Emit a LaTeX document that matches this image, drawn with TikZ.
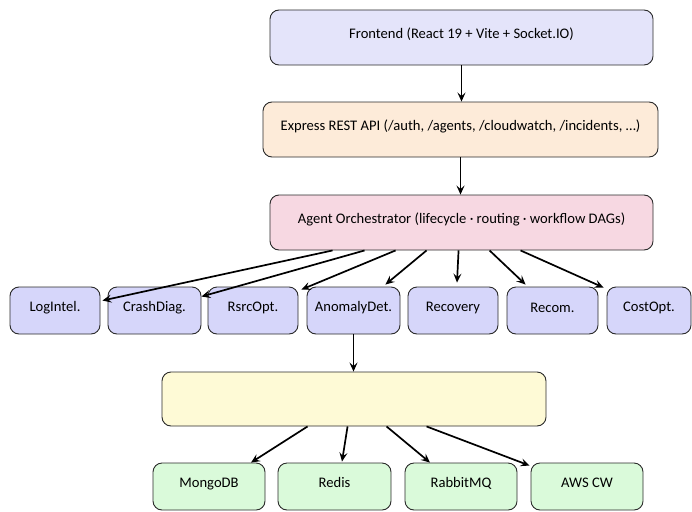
\documentclass[tikz,border=0pt]{standalone}
\usepackage{fontspec}
\setmainfont{Carlito}
\usetikzlibrary{arrows.meta,calc}
\definecolor{bordc}{HTML}{2A2A2A}
\definecolor{frontc}{HTML}{E4E4FA}
\definecolor{expc}{HTML}{FDEBD9}
\definecolor{orchc}{HTML}{F7D8E2}
\definecolor{agentc}{HTML}{D6D6FA}
\definecolor{yelc}{HTML}{FEFAD6}
\definecolor{dbc}{HTML}{DAFADA}
\tikzset{
  box/.style={draw=bordc, line width=0.9pt, rounded corners=9pt, inner sep=0pt,
    font=\fontsize{14.6}{16}\selectfont, text height=9pt, text depth=8pt, align=center},
  topbox/.style={box, minimum height=55pt},
  agent/.style={box, fill=agentc, minimum height=47pt},
  dbbox/.style={box, fill=dbc, minimum height=47pt},
  arr/.style={draw=black, line width=1.7pt, -{Stealth[length=9pt,width=8pt,inset=3.5pt]}},
}
\begin{document}
\begin{tikzpicture}[x=1pt,y=-1pt]
\useasboundingbox (0,0) rectangle (692,511);
% top chain
\node[topbox, fill=frontc, minimum width=383pt] (front) at (461.5,37.5) {Frontend (React 19 + Vite + Socket.IO)};
\node[topbox, fill=expc, minimum width=395pt] (express) at (460.5,129.5) {Express REST API (/auth, /agents, /cloudwatch, /incidents, \dots)};
\node[topbox, fill=orchc, minimum width=383pt] (orch) at (461.5,222.5) {Agent Orchestrator (lifecycle · routing · workflow DAGs)};
% agents
\node[agent, minimum width=90pt] (li) at (55,310.5) {LogIntel.};
\node[agent, minimum width=93pt] (cd) at (154.5,310.5) {CrashDiag.};
\node[agent, minimum width=90pt] (ro) at (253,310.5) {RsrcOpt.};
\node[agent, minimum width=93pt] (ad) at (353.5,310.5) {AnomalyDet.};
\node[agent, minimum width=90pt] (rv) at (453,310.5) {Recovery};
\node[agent, minimum width=91pt, text depth=5pt] (rc) at (552.5,310.5) {Recom.};
\node[agent, minimum width=84pt] (co) at (649,310.5) {CostOpt.};
% yellow layer
\node[box, fill=yelc, minimum width=384pt, minimum height=54pt] (yel) at (354,399) {};
% data stores
\node[dbbox, minimum width=112pt] (mongo) at (209,486.5) {MongoDB};
\node[dbbox, minimum width=113pt] (redis) at (334.5,486.5) {Redis};
\node[dbbox, minimum width=112pt] (rabbit) at (461,486.5) {RabbitMQ};
\node[dbbox, minimum width=112pt] (aws) at (587,486.5) {AWS CW};
% connectors
\draw[arr] (front.south) -- (front.south |- express.north);
\draw[arr] (express.south) -- (express.south |- orch.north);
\draw[arr] ($(orch.south west)+(63,0)$) -- ($(li.north east)+(2,14)$);
\draw[arr] ($(orch.south west)+(95,0)$) -- ($(cd.north east)+(0,10)$);
\draw[arr] ($(orch.south west)+(126,0)$) -- ($(ro.north east)+(3,3)$);
\draw[arr] ($(orch.south west)+(157,0)$) -- ($(ad.north east)+(-15,-2)$);
\draw[arr] ($(orch.south west)+(189,0)$) -- ($(rv.north)+(4,-4)$);
\draw[arr] ($(orch.south west)+(220,0)$) -- ($(rc.north west)+(19,-2)$);
\draw[arr] ($(orch.south west)+(251,0)$) -- ($(co.north west)+(-3,1)$);
\draw[arr] (ad.south) -- (ad.south |- yel.north);
\draw[arr] ($(yel.south west)+(146,0)$) -- ($(mongo.north)+(42,0)$);
\draw[arr] ($(yel.south west)+(186,0)$) -- ($(redis.north)+(7.5,-1)$);
\draw[arr] ($(yel.south west)+(225,0)$) -- ($(rabbit.north)+(-31,0)$);
\draw[arr] ($(yel.south west)+(265,0)$) -- ($(aws.north west)+(-1,3)$);
\end{tikzpicture}
\end{document}
